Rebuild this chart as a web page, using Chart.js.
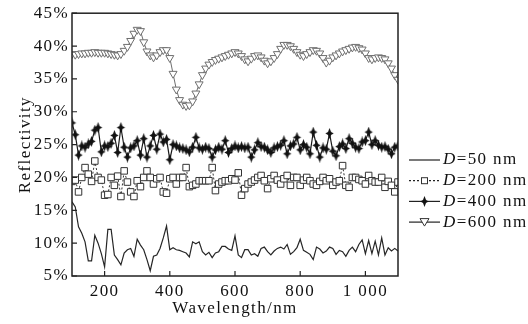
<!DOCTYPE html>
<html>
<head>
<meta charset="utf-8">
<script src="https://cdn.jsdelivr.net/npm/chart.js@4.4.1/dist/chart.umd.min.js"></script>
<style>
  html, body { margin: 0; padding: 0; background: #fff; }
  #wrap { width: 528px; height: 324px; }
</style>
</head>
<body>
<div id="wrap"><canvas id="reflect"></canvas></div>
<script>
const wavelengths = [
  100, 110, 120, 130, 140, 150, 160, 170, 180, 190,
  200, 210, 220, 230, 240, 250, 260, 270, 280, 290,
  300, 310, 320, 330, 340, 350, 360, 370, 380, 390,
  400, 410, 420, 430, 440, 450, 460, 470, 480, 490,
  500, 510, 520, 530, 540, 550, 560, 570, 580, 590,
  600, 610, 620, 630, 640, 650, 660, 670, 680, 690,
  700, 710, 720, 730, 740, 750, 760, 770, 780, 790,
  800, 810, 820, 830, 840, 850, 860, 870, 880, 890,
  900, 910, 920, 930, 940, 950, 960, 970, 980, 990,
  1000, 1010, 1020, 1030, 1040, 1050, 1060, 1070, 1080, 1090,
  1100
];

// reflectivity in %, one value per wavelength
const r50 = [
  16.3, 15.5, 12.5, 11.5, 10.2, 7.3, 7.3, 11.2, 10.0, 8.4,
  6.4, 12.1, 12.1, 8.2, 7.5, 6.7, 8.5, 9.0, 9.2, 8.0,
  10.6, 9.7, 9.0, 7.5, 5.8, 8.0, 8.2, 9.2, 10.8, 12.6,
  9.0, 9.3, 9.0, 8.9, 8.7, 8.5, 7.9, 10.2, 9.9, 10.2,
  8.7, 8.2, 8.6, 7.8, 8.5, 8.7, 9.5, 9.5, 9.1, 8.9,
  11.1, 8.2, 7.8, 9.0, 9.0, 8.2, 8.4, 8.0, 9.2, 9.4,
  8.7, 8.2, 8.8, 9.2, 9.4, 9.1, 9.8, 8.3, 8.7, 9.3,
  10.6, 8.9, 8.6, 8.3, 7.5, 9.4, 9.1, 8.5, 8.8, 9.4,
  9.2, 8.3, 8.9, 8.7, 8.0, 8.9, 9.4, 8.7, 9.8, 10.5,
  8.4, 10.4, 8.4, 10.3, 8.2, 10.8, 8.2, 9.3, 8.8, 9.2,
  8.8
];
const r200 = [
  19.4, 19.6, 17.8, 20.0, 21.5, 20.5, 19.4, 22.5, 20.0, 19.6,
  17.3, 17.4, 20.0, 18.8, 20.2, 17.1, 21.0, 19.3, 17.8, 17.1,
  19.5, 18.6, 20.0, 21.0, 20.0, 19.0, 19.8, 20.0, 17.8, 17.6,
  19.8, 20.0, 19.0, 20.0, 20.0, 21.5, 18.6, 18.8, 19.0, 19.5,
  19.5, 19.5, 19.5, 21.5, 18.0, 19.0, 19.3, 19.5, 19.5, 19.8,
  19.6, 20.7, 17.3, 18.3, 19.0, 19.3, 19.6, 20.0, 20.3, 19.5,
  18.3, 19.8, 20.3, 19.6, 19.0, 19.8, 20.3, 18.8, 20.0, 20.0,
  18.8, 19.6, 20.0, 19.5, 19.0, 18.8, 19.4, 20.0, 19.5, 19.8,
  18.8, 19.3, 19.5, 21.8, 18.8, 18.5, 20.0, 20.0, 19.7, 19.5,
  19.0, 20.3, 19.5, 19.3, 19.3, 20.0, 18.5, 19.4, 18.8, 17.8,
  19.3
];
const r400 = [
  28.3, 26.5, 23.4, 24.8, 24.6, 25.1, 25.5, 27.2, 27.6, 23.9,
  24.8, 24.7, 25.2, 26.4, 23.8, 27.6, 24.6, 23.1, 24.5, 24.8,
  25.6, 23.4, 25.9, 23.1, 24.8, 26.4, 24.3, 26.6, 25.4, 25.8,
  22.7, 25.0, 24.8, 24.5, 24.4, 24.2, 23.9, 24.6, 26.1, 24.5,
  24.3, 24.6, 24.4, 23.1, 24.2, 24.6, 24.3, 25.6, 23.8, 24.4,
  24.8, 24.5, 24.7, 24.5, 24.6, 23.1, 24.2, 25.3, 24.7, 24.6,
  24.2, 23.8, 24.5, 24.7, 24.9, 25.6, 23.6, 24.8, 25.1, 26.1,
  24.2, 25.0, 24.6, 23.6, 26.9, 24.9, 23.1, 24.5, 24.3, 26.7,
  24.0, 23.3, 24.7, 25.1, 24.4, 25.9, 25.2, 24.6, 24.4, 25.4,
  25.6, 26.9, 25.0, 25.6, 24.9, 24.6, 24.7, 24.3, 23.6, 24.6,
  24.8
];
const r600 = [
  38.8, 38.7, 38.8, 38.9, 38.9, 39.0, 39.0, 39.1, 39.0, 39.0,
  39.0, 38.9, 38.8, 38.7, 38.6, 38.8, 39.3, 39.9, 40.8, 41.9,
  42.5, 42.3, 40.6, 39.2, 38.6, 38.3, 38.6, 39.1, 39.4, 39.4,
  38.2, 35.8, 33.4, 31.8, 31.1, 30.9, 31.0, 31.6, 32.8, 34.2,
  35.6, 36.6, 37.2, 37.6, 37.9, 38.1, 38.3, 38.5, 38.7, 38.9,
  39.1, 38.9, 38.5, 38.0, 37.7, 38.1, 38.5, 38.6, 38.3, 37.8,
  37.4, 37.7, 38.2, 38.8, 39.6, 40.2, 40.2, 40.0, 39.6, 39.1,
  38.7, 38.5, 38.8, 39.1, 39.4, 39.3, 38.9, 38.2, 37.5, 37.8,
  38.3, 38.6, 38.9, 39.2, 39.4, 39.6, 39.8, 39.9, 39.7, 39.5,
  38.9, 38.2, 38.0, 38.2, 38.3, 38.2, 38.0, 37.4, 36.6, 35.6,
  34.9
];

const sizes = [50, 200, 400, 600];
const xTicks = [200, 400, 600, 800, 1000];
const xTickLabels = ['200', '400', '600', '800', '1 000'];
const yTicks = [5, 10, 15, 20, 25, 30, 35, 40, 45];

const FONT = '"Liberation Serif", "Times New Roman", serif';
const INK = '#111';

// small four-point star used as the D=400 marker
const star = document.createElement('canvas');
star.width = 11; star.height = 11;
(function () {
  const c = star.getContext('2d');
  const cx = 5.5, cy = 5.5;
  c.fillStyle = '#111';
  c.beginPath();
  c.moveTo(cx, cy - 5.5);
  c.lineTo(cx + 1.5, cy - 1.5);
  c.lineTo(cx + 4.2, cy);
  c.lineTo(cx + 1.5, cy + 1.5);
  c.lineTo(cx, cy + 5.5);
  c.lineTo(cx - 1.5, cy + 1.5);
  c.lineTo(cx - 4.2, cy);
  c.lineTo(cx - 1.5, cy - 1.5);
  c.closePath();
  c.fill();
})();

const series = [
  { data: r50, color: '#262626', width: 1.2, dash: [], point: false, radius: 0 },
  { data: r200, color: '#333', width: 1, dash: [2, 2], point: 'rect', radius: 4.6 },
  { data: r400, color: '#1a1a1a', width: 1.2, dash: [], point: star, radius: 4 },
  { data: r600, color: '#6e6e6e', width: 1, dash: [], point: 'triangle', radius: 4.6 }
];

const spacing = {
  id: 'spacing',
  beforeLayout(chart) { chart.ctx.letterSpacing = '1.4px'; },
  beforeDraw(chart) { chart.ctx.letterSpacing = '1.4px'; }
};

function legendMarker(ctx, kind, x, y) {
  if (kind === 'rect') {
    ctx.fillStyle = '#fff';
    ctx.strokeStyle = '#333';
    ctx.lineWidth = 1;
    ctx.fillRect(x - 3, y - 3, 6, 6);
    ctx.strokeRect(x - 3, y - 3, 6, 6);
  } else if (kind === 'triangle') {
    ctx.fillStyle = '#fff';
    ctx.strokeStyle = '#333';
    ctx.lineWidth = 1;
    ctx.beginPath();
    ctx.moveTo(x - 4.5, y - 3.5);
    ctx.lineTo(x + 4.5, y - 3.5);
    ctx.lineTo(x, y + 4);
    ctx.closePath();
    ctx.fill();
    ctx.stroke();
  } else if (kind) {
    ctx.drawImage(kind, x - 5.5, y - 5.5);
  }
}

const frame = {
  id: 'frame',
  afterDatasetsDraw(chart) {
    const ctx = chart.ctx;
    const a = chart.chartArea;
    const xs = chart.scales.x, ys = chart.scales.y;
    ctx.save();
    ctx.strokeStyle = '#222';
    ctx.lineWidth = 1.5;
    ctx.strokeRect(a.left, a.top, a.right - a.left, a.bottom - a.top);
    ctx.lineWidth = 1.2;
    ctx.beginPath();
    yTicks.forEach(v => {
      const py = ys.getPixelForValue(v);
      ctx.moveTo(a.left, py);
      ctx.lineTo(a.left + 5, py);
    });
    xTicks.forEach(v => {
      const px = xs.getPixelForValue(v);
      ctx.moveTo(px, a.bottom);
      ctx.lineTo(px, a.bottom - 5);
    });
    ctx.stroke();

    // legend to the right of the plot
    const x0 = 409, x1 = 440;
    ctx.textBaseline = 'middle';
    ctx.letterSpacing = '1.4px';
    series.forEach((s, i) => {
      const y = 160 + i * 20.7;
      ctx.strokeStyle = '#222';
      ctx.lineWidth = 1.2;
      ctx.setLineDash(s.dash);
      ctx.beginPath();
      ctx.moveTo(x0, y);
      ctx.lineTo(x1, y);
      ctx.stroke();
      ctx.setLineDash([]);
      legendMarker(ctx, s.point, (x0 + x1) / 2, y);
      ctx.fillStyle = INK;
      ctx.font = 'italic 17px ' + FONT;
      ctx.fillText('D', 443, y);
      const w = ctx.measureText('D').width;
      ctx.font = '17px ' + FONT;
      ctx.fillText('=' + sizes[i] + ' nm', 443 + w, y);
    });
    ctx.restore();
  }
};

Chart.defaults.font.family = FONT;
Chart.defaults.font.size = 17;
Chart.defaults.color = INK;

new Chart(document.getElementById('reflect'), {
  type: 'line',
  data: {
    labels: wavelengths,
    datasets: series.map(s => ({
      data: s.data,
      borderColor: s.color,
      borderWidth: s.width,
      borderDash: s.dash,
      tension: 0,
      pointStyle: s.point,
      pointRadius: s.radius,
      pointRotation: s.point === 'triangle' ? 180 : 0,
      pointBackgroundColor: '#fff',
      pointBorderColor: s.color,
      pointBorderWidth: 1,
      fill: false
    }))
  },
  options: {
    responsive: true,
    maintainAspectRatio: false,
    devicePixelRatio: 1,
    animation: false,
    layout: { padding: { left: 0, top: 12, right: 130, bottom: 0 } },
    plugins: { legend: { display: false }, tooltip: { enabled: false } },
    scales: {
      x: {
        type: 'linear',
        min: 100,
        max: 1100,
        grid: { display: false, drawTicks: false },
        border: { display: false },
        afterBuildTicks: s => { s.ticks = xTicks.map(v => ({ value: v })); },
        afterFit: s => { s.height = 48; },
        ticks: {
          autoSkip: false,
          maxRotation: 0,
          padding: 5,
          callback: (v, i) => xTickLabels[i]
        },
        title: { display: true, text: 'Wavelength/nm', padding: { top: 0, bottom: 5 } }
      },
      y: {
        min: 5,
        max: 45,
        grid: { display: false, drawTicks: false },
        border: { display: false },
        afterBuildTicks: s => { s.ticks = yTicks.map(v => ({ value: v })); },
        afterFit: s => { s.width = 72; },
        ticks: { padding: 3, callback: v => v + '%' },
        title: { display: true, text: 'Reflectivity', padding: { top: 15, bottom: 0 } }
      }
    }
  },
  plugins: [spacing, frame]
});
</script>
</body>
</html>
